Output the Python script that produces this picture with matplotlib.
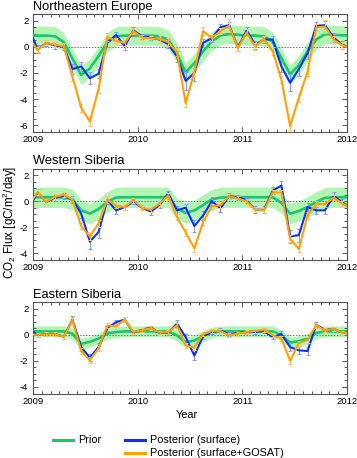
import matplotlib
matplotlib.use('Agg')
import matplotlib.pyplot as plt
import numpy as np
from matplotlib.lines import Line2D
from matplotlib.ticker import MultipleLocator

plt.rcParams['font.family'] = ['Liberation Sans', 'DejaVu Sans']
plt.rcParams['mathtext.default'] = 'regular'
plt.rcParams['axes.unicode_minus'] = False

# monthly values, Dec 2008 .. Jan 2012 (mid-month); outer months are clipped by the axes
months = np.arange(-1, 37)
t = 2009 + (months + 0.5) / 12

# Northeastern Europe
ne_prior = [0.85, 0.85, 0.85, 0.8, 0.35, -0.9, -2.15, -1.65, -0.7, 0.35, 0.8, 0.85, 0.85, 0.85, 0.85, 0.8,
            0.55, -0.5, -1.95, -1.25, -0.35, 0.4, 0.87, 0.97, 0.92, 0.85, 0.85, 0.8, 0.4, -0.87, -2.1, -1.4,
            -0.35, 0.55, 0.97, 0.92, 0.87, 0.87]
ne_surf = [1.4, -0.2, 0.3, 0.1, 0.0, -1.7, -1.5, -2.4, -2.05, 0.3, 0.9, 0.05, 1.25, 0.8, 0.7, 0.55,
           0.2, -0.75, -2.6, -2.0, 0.3, 0.65, 1.5, 1.65, -0.05, 1.25, 0.15, 0.55, 0.55, -1.5, -2.75, -1.7,
           -0.5, 1.6, 1.65, 0.7, 0.15, -0.1]
ne_gosat = [0.6, -0.23, 0.3, 0.15, 0.05, -2.3, -4.65, -5.7, -3.2, 0.75, 0.45, 0.3, 1.2, 0.7, 0.65, 0.6,
            0.35, -0.4, -4.3, -1.9, 1.2, 0.67, 1.2, 1.6, -0.1, 1.1, 0.0, 0.6, -0.35, -2.5, -6.05, -3.9,
            -1.9, 1.45, 1.55, 0.55, 0.1, -0.1]
ne_err_surf = [0.3, 0.3, 0.25, 0.25, 0.25, 0.35, 0.35, 0.45, 0.35, 0.3, 0.25, 0.3, 0.25, 0.2, 0.2, 0.25,
               0.3, 0.4, 0.7, 0.6, 0.3, 0.25, 0.25, 0.25, 0.3, 0.25, 0.3, 0.3, 0.3, 0.45, 0.65, 0.5,
               0.4, 0.3, 0.3, 0.3, 0.3, 0.3]
ne_err_gosat = [0.25, 0.2, 0.2, 0.2, 0.2, 0.3, 0.3, 0.35, 0.3, 0.3, 0.25, 0.25, 0.2, 0.2, 0.2, 0.3,
                0.3, 0.3, 0.3, 0.3, 0.3, 0.25, 0.25, 0.5, 0.25, 0.25, 0.25, 0.25, 0.3, 0.3, 0.3, 0.3,
                0.3, 0.25, 0.5, 0.3, 0.3, 0.3]
ne_band = 0.72

# Western Siberia
ws_prior = [0.3, 0.3, 0.3, 0.3, 0.3, 0.13, -0.7, -0.95, -0.6, -0.05, 0.28, 0.3, 0.3, 0.3, 0.3, 0.3,
            0.3, -0.55, -0.9, -0.7, -0.3, 0.13, 0.28, 0.3, 0.3, 0.3, 0.3, 0.3, 0.3, -0.13, -0.95, -0.75,
            -0.45, -0.05, 0.25, 0.3, 0.3, 0.3]
ws_surf = [-0.5, 0.67, -0.05, 0.25, 0.4, 0.13, -0.95, -3.1, -2.35, 0.08, -0.7, -0.45, -0.05, -0.5, -0.8, -0.3,
           0.6, -0.7, -0.5, -1.9, -1.1, 0.0, -0.55, 0.4, 0.3, 0.08, -0.65, -0.65, 0.8, 1.2, -2.7, -2.6,
           -0.45, -0.7, -0.7, 0.4, -0.1, -0.5]
ws_gosat = [-0.3, 0.7, -0.05, 0.33, 0.5, 0.13, -1.9, -2.7, -1.7, 0.13, -0.35, -0.45, 0.08, -0.5, -0.65, -0.2,
            0.45, -1.2, -2.4, -3.6, -1.6, -0.4, -0.3, 0.38, 0.2, 0.0, -0.65, -0.7, 0.67, 0.67, -2.87, -3.65,
            -1.1, -0.2, -0.23, 0.28, -0.18, -0.5]
ws_err_surf = [0.3, 0.25, 0.2, 0.2, 0.2, 0.25, 0.35, 0.55, 0.5, 0.3, 0.25, 0.2, 0.2, 0.2, 0.25, 0.2,
               0.2, 0.3, 0.3, 0.45, 0.35, 0.3, 0.25, 0.2, 0.2, 0.2, 0.25, 0.25, 0.25, 0.35, 0.5, 0.5,
               0.3, 0.25, 0.25, 0.3, 0.3, 0.3]
ws_err_gosat = [0.25, 0.2, 0.2, 0.2, 0.2, 0.2, 0.25, 0.25, 0.25, 0.25, 0.2, 0.2, 0.2, 0.2, 0.2, 0.2,
                0.2, 0.25, 0.25, 0.25, 0.25, 0.2, 0.2, 0.2, 0.2, 0.2, 0.2, 0.2, 0.2, 0.2, 0.25, 0.25,
                0.25, 0.2, 0.2, 0.2, 0.2, 0.2]
ws_band = 0.78

# Eastern Siberia
es_prior = [0.25, 0.25, 0.25, 0.25, 0.25, 0.08, -0.7, -0.55, -0.3, 0.08, 0.2, 0.25, 0.25, 0.25, 0.25, 0.25,
            0.25, -0.05, -0.6, -0.45, -0.12, 0.15, 0.25, 0.25, 0.25, 0.25, 0.25, 0.25, 0.25, -0.05, -0.6, -0.5,
            -0.3, 0.13, 0.25, 0.25, 0.25, 0.25]
es_surf = [0.4, 0.0, 0.05, 0.05, -0.15, 1.15, -0.95, -1.75, -0.95, 0.5, 0.95, 1.15, 0.15, 0.38, 0.55, 0.12,
           0.15, 0.85, -0.18, -1.6, -0.12, 0.2, 0.33, 0.03, 0.13, 0.2, 0.2, 0.28, -0.2, 0.05, -0.95, -1.2,
           -1.25, 0.75, 0.38, 0.45, 0.15, 0.1]
es_gosat = [0.0, 0.0, 0.03, 0.03, -0.15, 1.1, -1.25, -1.95, -1.05, 0.7, 0.65, 1.15, 0.2, 0.35, 0.5, 0.15,
            0.2, 0.72, -0.82, -1.0, 0.03, 0.28, 0.28, -0.05, 0.08, 0.2, 0.28, 0.38, -0.05, -0.3, -2.0, -0.65,
            -0.4, 0.72, 0.33, 0.45, 0.15, 0.1]
es_err_surf = [0.2, 0.15, 0.15, 0.15, 0.15, 0.25, 0.3, 0.3, 0.3, 0.2, 0.2, 0.2, 0.15, 0.15, 0.15, 0.15,
               0.15, 0.3, 0.2, 0.3, 0.2, 0.15, 0.15, 0.15, 0.15, 0.15, 0.15, 0.15, 0.15, 0.25, 0.3, 0.3,
               0.3, 0.2, 0.15, 0.15, 0.15, 0.15]
es_err_gosat = [0.15, 0.15, 0.15, 0.15, 0.2, 0.2, 0.25, 0.25, 0.2, 0.2, 0.2, 0.2, 0.15, 0.15, 0.15, 0.15,
                0.15, 0.2, 0.2, 0.2, 0.15, 0.15, 0.15, 0.15, 0.15, 0.15, 0.15, 0.15, 0.15, 0.2, 0.25, 0.2,
                0.2, 0.2, 0.15, 0.15, 0.15, 0.15]
es_band = 0.42

green = '#1ec46e'
band_c = '#b2f5b2'
blue = '#0a33ff'
orange = '#ffa200'
light_blue = '#7d9dff'
light_orange = '#ffc766'

W, H = 357, 458
fig = plt.figure(figsize=(W / 100, H / 100), dpi=100)

panels = [
    ('Northeastern Europe', 14, 132, (-6.5, 2.5), ne_prior, ne_band, ne_surf, ne_err_surf, ne_gosat, ne_err_gosat),
    ('Western Siberia', 168.5, 260, (-4.5, 2.5), ws_prior, ws_band, ws_surf, ws_err_surf, ws_gosat, ws_err_gosat),
    ('Eastern Siberia', 302, 393.5, (-4.5, 2.5), es_prior, es_band, es_surf, es_err_surf, es_gosat, es_err_gosat),
]

for title, top, bottom, ylim, prior, band, surf, esurf, gosat, egosat in panels:
    ax = fig.add_axes([33.3 / W, 1 - bottom / H, 313.4 / W, (bottom - top) / H])
    prior = np.array(prior)
    ax.fill_between(t, prior - band, prior + band, color=band_c, lw=0, zorder=1)
    ax.axhline(0, color='#777777', ls=(0, (1.5, 1.5)), lw=0.7, zorder=2)
    ax.plot(t, prior, color=green, lw=1.9, zorder=3)
    ax.errorbar(t, surf, yerr=esurf, color=blue, lw=1.5, ecolor=light_blue, elinewidth=0.7,
                capsize=1.3, capthick=0.7, zorder=4)
    ax.errorbar(t, gosat, yerr=egosat, color=orange, lw=1.5, ecolor=light_orange, elinewidth=0.7,
                capsize=1.3, capthick=0.7, zorder=5)
    ax.set_xlim(2009, 2012)
    ax.set_ylim(*ylim)
    ax.set_xticks([2009, 2010, 2011, 2012])
    ax.set_xticklabels(['2009', '2010', '2011', '2012'])
    ax.xaxis.set_minor_locator(MultipleLocator(1 / 12))
    ax.set_yticks(np.arange(np.ceil(ylim[0] / 2) * 2, ylim[1], 2))
    ax.yaxis.set_minor_locator(MultipleLocator(0.5))
    ax.tick_params(which='both', direction='in', top=True, right=True, width=0.6, color='#444444')
    ax.tick_params(which='major', length=3.5, labelsize=6.8)
    ax.tick_params(which='minor', length=2)
    ax.tick_params(axis='y', pad=3.5)
    ax.tick_params(axis='x', pad=2.5)
    for s in ax.spines.values():
        s.set_color('#555555')
        s.set_linewidth(0.8)
    ax.set_title(title, loc='left', fontsize=9.3, pad=3)

fig.text(1 / W, 1 - 222 / H, 'CO$_2$ Flux [gC/m$^2$/day]', rotation=90, ha='left', va='center', fontsize=8.4)
fig.text(187 / W, 1 - 415 / H, 'Year', ha='center', va='center', fontsize=7.8)

# legend
for x0, y0, c, label in [(53, 440, green, 'Prior'), (125, 440, blue, 'Posterior (surface)'),
                         (125, 452.5, orange, 'Posterior (surface+GOSAT)')]:
    fig.add_artist(Line2D([x0 / W, (x0 + 20) / W], [1 - y0 / H, 1 - y0 / H], color=c, lw=2.2,
                          transform=fig.transFigure))
    fig.text((x0 + 25) / W, 1 - y0 / H, label, ha='left', va='center', fontsize=7.8)

fig.savefig('out.png', dpi=100)
